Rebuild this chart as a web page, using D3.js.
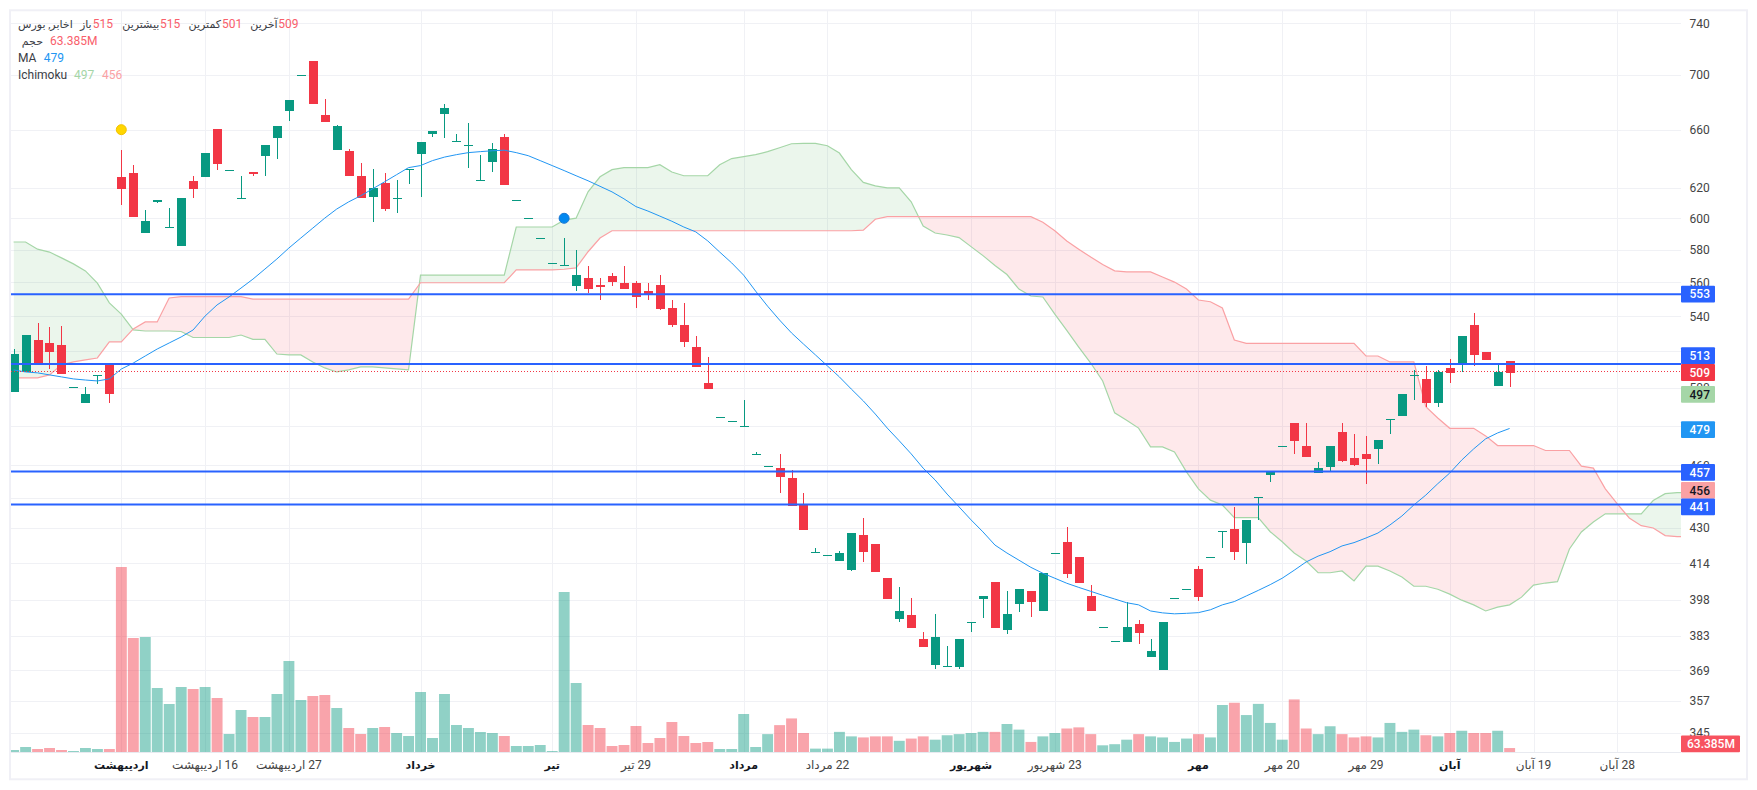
<!DOCTYPE html>
<html lang="fa">
<head>
<meta charset="utf-8">
<style>
html,body{margin:0;padding:0;background:#fff;}
svg{display:block;}
text{font-family:Roboto,"DejaVu Sans",sans-serif;}
</style>
<script src="https://cdnjs.cloudflare.com/ajax/libs/d3/7.8.5/d3.min.js"></script>
</head>
<body>
<svg id="chart" width="1757" height="790"></svg>
<script>
const firstIndex = -9;
const opens = [497.7,508.6,526.4,524.7,523.5,500.4,491.9,506.9,513,
627.4,630.2,590.5,610.7,594.4,582.4,624.7,627.4,660.3,632.2,
613.3,630.9,641.8,654.2,673.5,699.8,710.6,670.6,645.9,645.2,
628.1,614,623.4,613.3,632.9,643.2,656.9,671.3,652.1,649.4,
625.4,637.7,654.9,612,600,587.4,572,570.7,557.8,562.6,
558.4,563.9,559.6,559.6,554.8,558.4,544.9,535,522.4,502.4,
484.6,482.4,479.9,465.7,459.6,458.6,453.8,440.8,419,417.7,
414.9,410.9,426.8,422.7,407.4,390,391.7,381.6,371.1,370.7,
370.3,388.7,398.4,405.7,385.4,396.3,401.9,393.3,418.6,423.6,
416.6,399.6,386.4,380.8,380.4,387.9,374.4,369.1,398.8,402.8,
411.4,416.6,428.6,429.5,423.1,444.6,455.3,469.7,481.4,469.7,
456.2,459.1,476.9,463.7,465.7,468.2,483.5,485.1,506.9,504.6,
491.9,510.8,513,535,519.6,500.9,514.7];
const highs = [521.3,529.2,536.1,533.8,534.4,500.4,500.4,506.9,513,
645.9,635.6,605.4,612,606.7,613.3,628.1,643.9,660.3,632.2,
628.1,630.9,649.4,662.6,681.5,699.8,710.6,682.3,663.3,646.6,
637,632.9,630.2,625.4,632.9,651.4,659,678.6,656.9,664.7,
642.5,650.8,656.9,612,600,587.4,572,587.4,579.8,570,
562.6,565.7,570,560.8,559.6,564.4,549.5,547.8,528.7,516.8,
484.6,482.4,493.5,466.7,459.6,465.7,457.7,446.5,420.9,417.7,
419.5,427.7,434.7,422.7,407.4,403.6,398.8,384.4,392.1,378.8,
381.6,388.7,399.6,405.7,401.9,402.8,401.9,409.6,418.6,430.5,
416.6,404.4,386.4,380.8,397.1,389.6,381.6,388.7,398.8,402.8,
412.7,416.6,428.6,439.8,433.8,444.6,457.2,469.7,481.4,481.4,
461.6,469.7,481.4,475.8,474.8,472.8,483.5,496.7,509.8,511.9,
509.8,515.8,528.7,541.8,519.6,513,514.7];
const lows = [497.7,508.6,513.5,510.2,507.5,499.8,491.9,502,491.9,
608.7,600.8,590.5,610,594.4,582.4,613.3,627.4,632.2,632.2,
613.3,628.1,628.1,639.8,666.2,699.8,678.6,665.5,645.9,628.1,
613.3,597.5,604.7,603.4,622.7,614,654.9,654.2,652.1,633.5,
625.4,630.9,622,612,600,587.4,572,570.7,554.8,553.6,
549.5,557.8,556,544.9,549.5,543.7,533.8,522.4,511.4,499.3,
484.6,482.4,479.9,465.7,459.6,446.5,440.4,429.1,419,417.7,
414.9,410.5,414.5,410,398.4,388.7,386.2,378.4,369.5,370.7,
369.5,384.4,390.4,386.2,383.6,392.9,390.8,393.3,418.6,407.4,
405.3,393.3,386.4,380.8,380.4,379.6,374.4,369.1,398.8,402.8,
397.5,416.6,420.9,415.4,413.6,433.8,452,469.7,465.7,464.2,
456.2,456.7,461.6,459.6,451,460.6,475.8,485.1,493.5,489.8,
489.8,502.5,508.7,511.9,515.2,500.9,500.4];
const closes = [518.5,529.2,513.5,519.6,507.5,500.4,496.7,506.9,496.7,
619.3,600.8,598.2,612,594.4,613.3,619.3,643.9,636.3,632.2,
613.3,629.5,649.4,662.6,681.5,699.8,678.6,665.5,662.6,628.1,
613.3,620,606,613.3,632.9,651.4,659,675.6,652.1,649.4,
625.4,646.6,622,612,600,587.4,572,570.7,564.4,556,
557.2,560.2,556,551.4,553,544.3,535,525.3,511.4,499.3,
484.6,482.4,479.9,465.7,459.6,454.3,440.4,429.1,419,417.7,
418.6,427.7,419,410,398.4,393.3,386.2,378.4,382.4,370.7,
381.6,388.7,399.6,386.2,392.1,402.8,397.1,409.6,418.6,409.2,
405.3,393.3,386.4,380.8,386.4,384.1,376.8,388.7,398.8,402.8,
399.2,416.6,428.6,419,433.8,444.6,457.2,469.7,472.3,464.2,
458.6,469.7,462.1,460.1,463.2,472.8,483.5,496.7,506.9,491.9,
508.7,508,528.7,518,515.2,508.7,508];
const volumes = [32,80,48,64,32,16,64,48,48,
2960,1824,1840,1024,768,1040,1008,1040,864,288,
672,560,560,928,1456,832,896,912,704,384,
288,384,400,304,256,960,224,928,432,384,
320,304,256,96,96,112,16,2560,1104,432,
384,96,112,416,144,224,480,256,144,160,
48,48,608,80,286,430,537,304,54,54,
322,250,233,250,250,179,215,250,197,268,
286,304,322,322,448,358,161,250,304,376,
394,286,107,125,197,286,250,233,161,215,
286,233,752,788,591,770,465,197,841,376,
286,412,286,233,250,233,465,322,358,268,
250,304,340,304,304,340,63.385];
const maValues = [509.7,508.6,508.1,507,505.9,504.8,504.2,503.7,504.8,
510.2,513.5,517.4,521.3,524.7,528.1,532.1,540.1,546.6,551.3,
556.6,562,568.1,574.3,581.1,587.4,593.7,600.1,606,610.7,
614.7,619.3,624,628.8,633.6,635,638.4,640.8,642.5,643.9,
644.6,645.2,645.6,643.9,641.8,638.4,635,631.6,628.1,624.7,
621,617.3,612.7,607.6,604.7,601.4,598.1,594.4,591.3,585.6,
578.6,571.9,564.4,554.8,545.9,537.8,530.4,524.1,518,511.9,
505.9,499.3,493,486.1,478.8,472.3,465.7,458.6,452.8,446,
439.9,433.8,428.2,422.2,418.6,415.4,412.2,409.6,407.4,405.2,
403.4,401.7,400,398.4,396.8,395.9,393.3,392.5,392.1,392.3,
392.6,393.8,395.9,397.3,399.7,402.1,404.6,407.4,410.9,414.6,
417.2,419.2,421.8,423.3,425.4,427.7,431.4,435.6,440.8,445.5,
451,456.2,462.6,468.2,473.3,476.3,478.6];
const spanA = [584.9,584.9,580.4,578.6,575,571.3,567,559.6,547.8,
541.2,532.1,531.5,531.5,531.5,531.2,527.8,527.8,527.8,527.8,
529.2,526.7,526.7,518.5,518,518,514.1,510.8,508.6,509.7,
511.4,511.4,510.8,510.3,509.7,564.4,564.4,564.4,564.4,564.4,
564.4,564.4,564.4,594.4,594.4,594.4,594.4,598.8,600.1,617.3,
627.4,632.2,633.6,633.6,633.6,635.6,630.6,628.1,628.1,628.1,
635.6,639.8,641.1,642.5,644.6,647.3,650.1,650.4,650.4,648.7,
643.6,632.2,623.6,621.3,619.9,619.9,610.7,595,590.6,589.3,
587.7,582,576.4,570.3,564.8,556,551.9,551.3,541.2,531.8,
522.4,513.5,503.7,486.7,482.9,478.8,469.2,469.2,466.7,456.8,
448.5,443.1,440.8,434.8,434.8,434.8,428.3,423.7,418.6,415,
409.8,409.8,410.6,406.2,412.7,412.7,410.6,407.9,403.9,403.9,
402.6,400.5,397.9,395.9,393.3,394.9,395.9,399.2,404.4,405.3,
405.9,420.4,428.2,432.8,436.6,436.6,436.6,436.6,442.9,446.2,446.7,446.7];
const spanB = [505.4,505.4,505.4,507,512.5,514.1,515.2,516.3,525.3,
525.3,532.7,536.7,536.7,550.7,551.5,551.5,551.5,551.5,551.5,
551.5,550,550,550,550,550,550,550,550,550,
550,550,550,550,550,559.8,559.8,559.8,559.8,559.8,
559.8,559.8,559.8,567.6,567.6,567.6,567.6,568,568.8,578.8,
587.4,592,592,592,592,592,592,592,592,592,
592,592,592,592,592,592,592,592,592,592,
592,592,592.4,599.4,601.1,601.1,601.1,601.1,601.1,601.1,
601.1,601.1,601.1,601.1,601.1,601.1,601.1,597.5,592,585.5,
580.4,575.5,570.9,567,566.4,566.4,566.4,563.3,560.2,556,
549.5,548.5,544.8,526.4,524.5,524.5,524.5,524.5,524.5,524.5,
524.5,524.5,524.5,524.5,517.4,517.4,514.1,514.1,514.1,490,
484,478.7,478.7,478.7,474.8,469.9,469.9,469.9,469.9,467.4,
467.4,467.4,459.6,458.6,448.5,441.3,434.7,431.1,430,426.5,426,426];
const gridTicks = [740,700,660,620,600,580,560,540,520,500,480,460,444,430,414,398,383,369,357,345];
const priceTicks = [740,700,660,620,600,580,560,540,500,460,430,414,398,383,369,357,345];
const timeTickIndex = [0,7,14,25,36,43,52,59,71,78,90,97,104,111,118,125];
const timeTickLabels = ["اردیبهشت","16 اردیبهشت","27 اردیبهشت","خرداد","تیر","29 تیر","مرداد","22 مرداد","شهریور","23 شهریور","مهر","20 مهر","29 مهر","آبان","19 آبان","28 آبان"];
const timeTickBold = [1,0,0,1,1,0,1,0,1,0,1,0,0,1,0,0];
const levelValues = [553,513,457,441];
const lastPrice = 509;
const axisLabelText = ["553","513","509","497","479","457","456","441"];
const axisLabelCenter = [553,517.6,508.3,496.5,478,456.5,447.8,439.9];
const axisLabelFill = ["#2962FF","#2962FF","#F23645","#A5D6A7","#2196F3","#2962FF","#FAA1A4","#2962FF"];
const axisLabelInk = ["#fff","#fff","#fff","#131722","#fff","#fff","#131722","#fff"];
const markerIndex = [0,37];
const markerPrice = [660,600];
const markerFill = ["#FFD600","#0288F0"];
const markerStroke = ["#F2C200","#1976D2"];
const ink = "#3a3d45", hot = "#F9606B";
const legendRows = [
 [["اخابر, بورس",72.7,ink,1],["باز",91.7,ink,1],["515",92.7,hot,0],["بیشترین",159.3,ink,1],["515",160,hot,0],["کمترین",221,ink,1],["501",222,hot,0],["آخرین",277.7,ink,1],["509",278.3,hot,0]],
 [["حجم",43,ink,1],["63.385M",50,hot,0]],
 [["MA",18,ink,0],["479",43.7,"#2196F3",0]],
 [["Ichimoku",18,ink,0],["497",74,"#A5D6A7",0],["456",102,"#FAA1A4",0]]
];

const svg = d3.select("#chart");
const plotLeft = 11, plotRight = 1681, plotTop = 11, plotBottom = 752;
const x = d3.scaleLinear().domain([-9,125]).range([13.59,1617.3]);
const y = d3.scaleLog().domain([345,740]).range([732.8,23.3]);
const v = d3.scaleLinear().domain([0,3000]).range([752,564.5]);
const idx = i => i + firstIndex;

const defs = svg.append("defs");
defs.append("clipPath").attr("id","plot").append("rect")
  .attr("x",plotLeft).attr("y",plotTop).attr("width",plotRight-plotLeft).attr("height",plotBottom-plotTop);
const spanIdx = d3.range(spanA.length);
const lineA = d3.line().x(i=>x(idx(i))).y(i=>y(spanA[i]));
const lineB = d3.line().x(i=>x(idx(i))).y(i=>y(spanB[i]));
const cloud = d3.area().x(i=>x(idx(i))).y0(i=>y(spanB[i])).y1(i=>y(spanA[i]));
defs.append("clipPath").attr("id","aboveB").append("path")
  .attr("d", d3.area().x(i=>x(idx(i))).y0(0).y1(i=>y(spanB[i]))(spanIdx));
defs.append("clipPath").attr("id","belowB").append("path")
  .attr("d", d3.area().x(i=>x(idx(i))).y0(790).y1(i=>y(spanB[i]))(spanIdx));

// frame
svg.append("rect").attr("x",10).attr("y",10.3).attr("width",1737).attr("height",769)
  .attr("fill","#fff").attr("stroke","#F0F0F6").attr("stroke-width",2);

// grid
const grid = svg.append("g").attr("stroke","#F0F1F5").attr("stroke-width",1);
grid.selectAll("line.h").data(gridTicks).join("line").attr("class","h")
  .attr("x1",plotLeft).attr("x2",plotRight)
  .attr("y1",d=>Math.round(y(d))+0.5).attr("y2",d=>Math.round(y(d))+0.5);
grid.selectAll("line.v").data(timeTickIndex).join("line").attr("class","v")
  .attr("y1",plotTop).attr("y2",plotBottom)
  .attr("x1",d=>Math.round(x(d))+0.5).attr("x2",d=>Math.round(x(d))+0.5);
svg.append("line").attr("x1",plotLeft).attr("x2",plotRight).attr("y1",752.5).attr("y2",752.5).attr("stroke","#E8EAF0");

const plot = svg.append("g").attr("clip-path","url(#plot)");

// cloud
plot.append("g").attr("clip-path","url(#aboveB)").append("path").attr("d",cloud(spanIdx)).attr("fill","rgba(76,175,80,0.11)");
plot.append("g").attr("clip-path","url(#belowB)").append("path").attr("d",cloud(spanIdx)).attr("fill","rgba(242,54,69,0.11)");
plot.append("path").attr("d",lineA(spanIdx)).attr("fill","none").attr("stroke","#A5D6A7").attr("stroke-width",1.2);
plot.append("path").attr("d",lineB(spanIdx)).attr("fill","none").attr("stroke","#FAA1A4").attr("stroke-width",1.2);

// volume
const candleIdx = d3.range(opens.length);
const isUp = i => closes[i] >= opens[i];
plot.append("g").selectAll("rect").data(candleIdx).join("rect")
  .attr("x",i=>x(idx(i))-5.4).attr("width",10.9)
  .attr("y",i=>v(volumes[i])).attr("height",i=>v(0)-v(volumes[i]))
  .attr("fill",i=>isUp(i)?"rgba(8,153,129,0.45)":"rgba(242,54,69,0.45)");

// candles
const cg = plot.append("g").attr("shape-rendering","crispEdges");
cg.selectAll("line").data(candleIdx).join("line")
  .attr("x1",i=>Math.round(x(idx(i)))+0.5).attr("x2",i=>Math.round(x(idx(i)))+0.5)
  .attr("y1",i=>y(highs[i])).attr("y2",i=>y(lows[i]))
  .attr("stroke",i=>isUp(i)?"#089981":"#F23645").attr("stroke-width",1);
cg.selectAll("rect").data(candleIdx).join("rect")
  .attr("x",i=>Math.round(x(idx(i)))-4).attr("width",9)
  .attr("y",i=>y(Math.max(opens[i],closes[i])))
  .attr("height",i=>Math.max(1,y(Math.min(opens[i],closes[i]))-y(Math.max(opens[i],closes[i]))))
  .attr("fill",i=>isUp(i)?"#089981":"#F23645");

// moving average
plot.append("path").attr("d",d3.line().x(i=>x(idx(i))).y(i=>y(maValues[i]))(candleIdx))
  .attr("fill","none").attr("stroke","#2196F3").attr("stroke-width",1);

// level lines
svg.append("g").selectAll("line").data(levelValues).join("line")
  .attr("x1",plotLeft).attr("x2",plotRight)
  .attr("y1",d=>y(d)).attr("y2",d=>y(d))
  .attr("stroke","#2962FF").attr("stroke-width",2);
svg.append("line").attr("x1",plotLeft).attr("x2",plotRight)
  .attr("y1",Math.round(y(lastPrice))+0.5).attr("y2",Math.round(y(lastPrice))+0.5)
  .attr("shape-rendering","crispEdges")
  .attr("stroke","#F23645").attr("stroke-width",1).attr("stroke-dasharray","1 2");

// markers
svg.append("g").selectAll("circle").data(markerIndex).join("circle")
  .attr("cx",d=>x(d)).attr("cy",(d,i)=>y(markerPrice[i])).attr("r",5)
  .attr("fill",(d,i)=>markerFill[i]).attr("stroke",(d,i)=>markerStroke[i]).attr("stroke-width",1);

// price axis text
svg.append("g").selectAll("text").data(priceTicks).join("text")
  .attr("x",1689.5).attr("y",d=>y(d)).attr("dy","0.36em")
  .attr("font-size",12).attr("fill","#444").text(d=>d);

// axis labels
const labels = svg.append("g");
axisLabelText.forEach((t,i)=>{
  const cy = y(axisLabelCenter[i]);
  labels.append("rect").attr("x",1681).attr("y",cy-8.4).attr("width",34).attr("height",16.8).attr("rx",1)
    .attr("fill",axisLabelFill[i]);
  labels.append("text").attr("x",1689.5).attr("y",cy).attr("dy","0.36em")
    .attr("font-size",12).attr("font-weight",500).attr("fill",axisLabelInk[i]).text(t);
});
labels.append("rect").attr("x",1681).attr("y",735.5).attr("width",59).attr("height",16.8).attr("rx",1).attr("fill","#F7525F");
labels.append("text").attr("x",1687).attr("y",744).attr("dy","0.36em").attr("font-size",12).attr("font-weight",500).attr("fill","#fff").text("63.385M");

// time axis
svg.append("g").selectAll("text").data(timeTickIndex).join("text")
  .attr("x",d=>x(d)).attr("y",765).attr("dy","0.36em").attr("text-anchor","middle")
  .style("direction","rtl")
  .attr("font-size",(d,i)=>timeTickBold[i]?11:12)
  .attr("font-weight",(d,i)=>timeTickBold[i]?700:400)
  .attr("fill",(d,i)=>timeTickBold[i]?"#131722":"#444")
  .text((d,i)=>timeTickLabels[i]);

// legend
const legendY = [23.7,41,58,75];
legendRows.forEach((row,r)=>{
  row.forEach(cell=>{
    svg.append("text").attr("x",cell[1]).attr("y",legendY[r]).attr("dy","0.36em")
      .attr("text-anchor",cell[3]?"end":"start")
      .attr("font-size",cell[3]?11:12).attr("fill",cell[2]).text(cell[0]);
  });
});
</script>
</body>
</html>
